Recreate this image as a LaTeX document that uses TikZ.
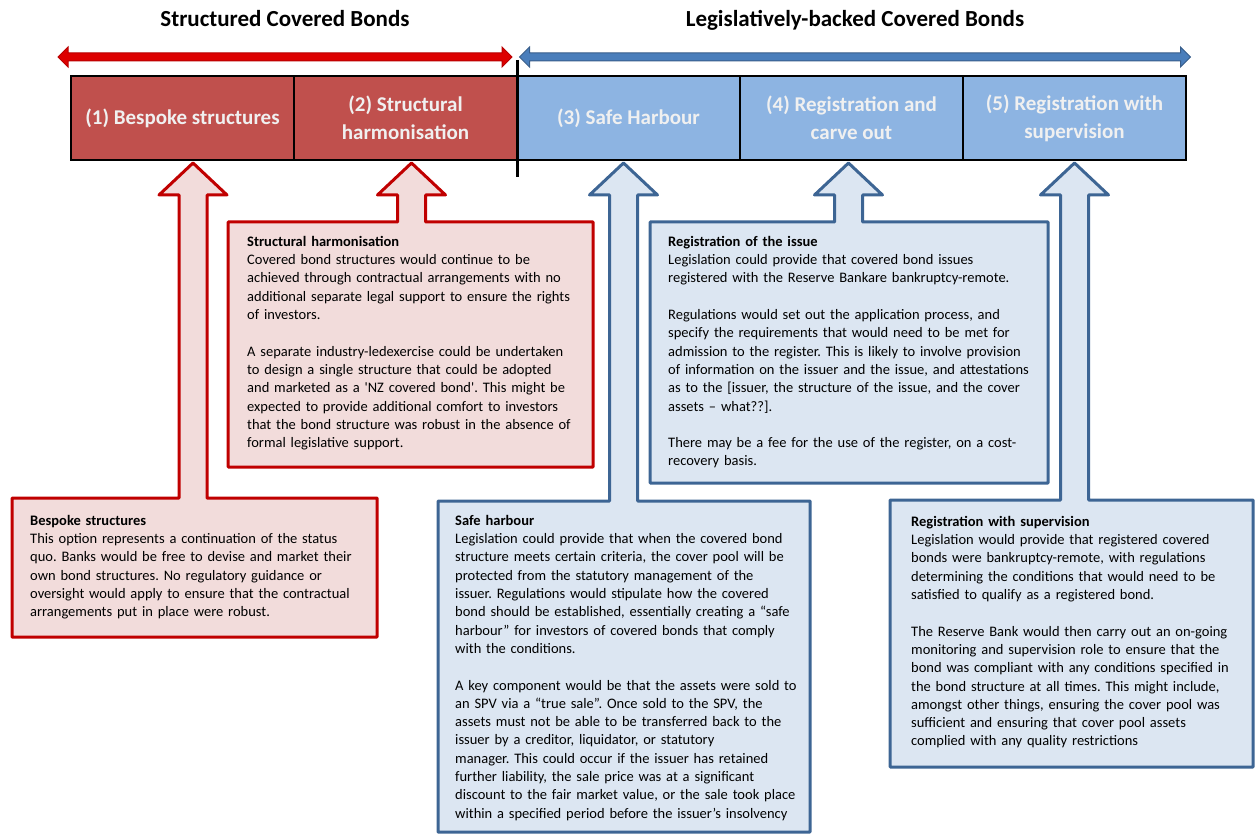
\documentclass[tikz,border=0pt]{standalone}
\usepackage{fontspec}
\setmainfont{Carlito}
\usepackage{tikz}
\usetikzlibrary{positioning,calc,shapes.arrows}
\frenchspacing

\definecolor{cellred}{HTML}{C0504D}
\definecolor{cellblue}{HTML}{8DB4E2}
\definecolor{notered}{HTML}{C00000}
\definecolor{noteredfill}{HTML}{F2DCDB}
\definecolor{noteblue}{HTML}{3D6594}
\definecolor{notebluefill}{HTML}{DCE6F2}
\definecolor{spanred}{HTML}{DD0000}
\definecolor{spanredline}{HTML}{B80000}
\definecolor{spanblue}{HTML}{4A7EBB}
\definecolor{spanblueline}{HTML}{385D8A}

\tikzset{
  cell/.style={rectangle,draw=black,line width=1.2pt,minimum width=223pt,minimum height=84pt,
    inner sep=0pt,outer sep=0pt,align=center,text=white!94!black,
    font=\fontsize{21}{28}\selectfont\bfseries},
  redcell/.style={cell,fill=cellred},
  bluecell/.style={cell,fill=cellblue},
  span/.style={double arrow,inner sep=3.5pt,double arrow head extend=6pt,line width=1pt},
  heading/.style={inner sep=0pt,text height=16pt,text depth=5pt,font=\fontsize{23}{27}\selectfont\bfseries},
  frame/.style={rectangle,inner sep=0pt,outer sep=0pt},
  redcallout/.style={draw=notered,fill=noteredfill,line width=3pt,line join=round},
  bluecallout/.style={draw=noteblue,fill=notebluefill,line width=3pt,line join=round},
  note/.style={align=left,text width=380pt,inner sep=0pt,font=\fontsize{14.5}{18.3}\selectfont}
}

% box with a block arrow rising from its top edge up to a cell of the bar
\newcommand{\drawcallout}[4]{%
  \path[#1] let \p1=([xshift=#4]#2.south), \p2=(#3.north west), \p3=(#3.south east) in
    (\x2,\y3) -- (\x2,\y2) -- (\x1-14pt,\y2) -- (\x1-14pt,\y1-35pt) -- (\x1-34pt,\y1-35pt)
    -- (\x1,\y1-3pt) -- (\x1+34pt,\y1-35pt) -- (\x1+14pt,\y1-35pt) -- (\x1+14pt,\y2)
    -- (\x3,\y2) -- (\x3,\y3) -- cycle;}
\newcommand{\gap}{\\[18.3pt]}

\begin{document}
\begin{tikzpicture}[x=1pt,y=-1pt]
  \useasboundingbox (0,0) rectangle (1255,834);

  % the five options along the bar
  \node[redcell,anchor=north west] (bespoke) at (71,76) {(1) Bespoke structures};
  \node[redcell,right=0pt of bespoke] (harmon) {(2) Structural\\harmonisation};
  \node[bluecell,right=0pt of harmon] (harbour) {(3) Safe Harbour};
  \node[bluecell,right=0pt of harbour] (carve) {(4) Registration and\\carve out};
  \node[bluecell,right=0pt of carve] (super) {(5) Registration with\\supervision};

  % the two families of covered bonds
  \node[span,fill=spanred,draw=spanredline,minimum height=454pt] (scb) at (285,57) {};
  \node[span,fill=spanblue,draw=spanblueline,minimum height=671pt] (lcb) at (855,57) {};
  \node[heading,above=21pt of scb] (scbtitle) {Structured Covered Bonds};
  \node[heading,above=21pt of lcb] (lcbtitle) {Legislatively-backed Covered Bonds};
  \draw[line width=3pt] ([yshift=16pt]harmon.north east) -- ([yshift=-17pt]harmon.south east);

  % callout frames
  \node[frame,minimum width=365pt,minimum height=139pt,anchor=north west] (bespokebox) at (12,498) {};
  \node[frame,minimum width=365pt,minimum height=245pt,anchor=north west] (harmonbox) at (228,222) {};
  \node[frame,minimum width=372pt,minimum height=331pt,anchor=north west] (harbourbox) at (438,501) {};
  \node[frame,minimum width=398pt,minimum height=261pt,anchor=north west] (carvebox) at (650,222) {};
  \node[frame,minimum width=363pt,minimum height=267pt,anchor=north west] (superbox) at (890,500) {};

  \drawcallout{redcallout}{bespoke}{bespokebox}{10.5pt}
  \drawcallout{redcallout}{harmon}{harmonbox}{6pt}
  \drawcallout{bluecallout}{harbour}{harbourbox}{-5pt}
  \drawcallout{bluecallout}{carve}{carvebox}{-3pt}
  \drawcallout{bluecallout}{super}{superbox}{0pt}

  % callout texts
  \node[note,below right=17pt and 18pt of bespokebox.north west] (bespokenote) {%
    \textbf{Bespoke structures}\\
    This option represents a continuation of the status\\
    quo. Banks would be free to devise and market  their\\
    own bond structures. No regulatory guidance or\\
    oversight would apply to ensure that the contractual\\
    arrangements put in place were robust.};
  \node[note,below right=14pt and 19pt of harmonbox.north west] (harmonnote) {%
    \textbf{Structural harmonisation}\\
    Covered bond structures would continue to be\\
    achieved through contractual arrangements with no\\
    additional separate legal support to ensure the rights\\
    of investors.\gap
    A separate industry-ledexercise could be undertaken\\
    to design a single structure that could be adopted\\
    and marketed as a \textquotesingle NZ covered bond\textquotesingle.  This might be\\
    expected to provide additional comfort to investors\\
    that the bond structure was robust in the absence of\\
    formal legislative support.};
  \node[note,below right=14pt and 17pt of harbourbox.north west] (harbournote) {%
    \textbf{Safe harbour}\\
    Legislation could provide that when the covered bond\\
    structure meets certain criteria, the cover pool will be\\
    protected from the statutory management of the\\
    issuer.  Regulations would stipulate how the covered\\
    bond should be established, essentially creating a “safe\\
    harbour” for investors of covered bonds that comply\\
    with the conditions.\gap
    A key component would be that the assets were sold to\\
    an SPV via a “true sale”.  Once sold to the SPV, the\\
    assets must not be able to be transferred back to the\\
    issuer by a creditor, liquidator, or statutory\\
    manager.  This could occur if the issuer has retained\\
    further liability, the sale price was at a significant\\
    discount to the fair market value, or the sale took place\\
    within a specified period before the issuer’s insolvency};
  \node[note,below right=14pt and 18pt of carvebox.north west] (carvenote) {%
    \textbf{Registration of the issue}\\
    Legislation could provide that covered bond issues\\
    registered with the Reserve Bankare bankruptcy-remote.\gap
    Regulations would set out the application process, and\\
    specify the requirements that would need to be met for\\
    admission to the register.   This is likely to involve provision\\
    of information on the issuer and the issue, and attestations\\
    as to the [issuer, the structure of the issue, and the cover\\
    assets -- what??].\gap
    There may be a fee for the use of the register, on a cost-\\
    recovery basis.};
  \node[note,below right=16pt and 21pt of superbox.north west] (supernote) {%
    \textbf{Registration with supervision}\\
    Legislation would provide that registered covered\\
    bonds were bankruptcy-remote, with regulations\\
    determining  the conditions that would need to be\\
    satisfied to qualify as a registered bond.\gap
    The Reserve Bank would then carry out an on-going\\
    monitoring and supervision role to ensure that the\\
    bond was compliant with any conditions specified in\\
    the bond structure at all times. This might include,\\
    amongst other things, ensuring the cover pool was\\
    sufficient and ensuring that cover pool assets\\
    complied with any quality restrictions};
\end{tikzpicture}
\end{document}
